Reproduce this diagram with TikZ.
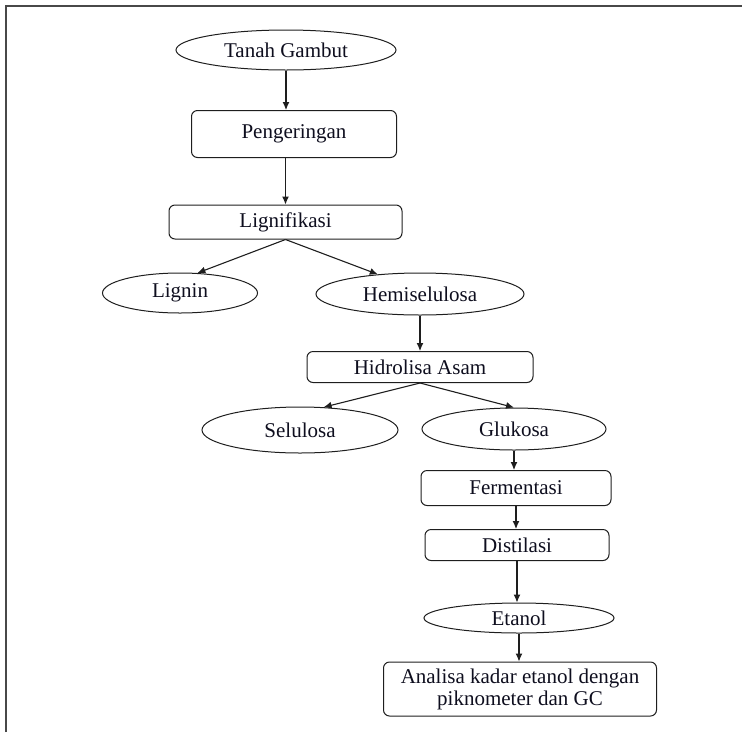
\documentclass[tikz,border=0pt]{standalone}
\usepackage{fontspec}
\setmainfont{Liberation Serif}
\usetikzlibrary{arrows.meta,shapes.geometric,calc}
\definecolor{flowLine}{RGB}{30,30,30}
\definecolor{flowText}{RGB}{14,14,30}
\definecolor{frameGray}{RGB}{72,72,72}

\begin{document}
\begin{tikzpicture}[x=1pt,y=-1pt,
  stepbox/.style={draw=flowLine, line width=1pt, rounded corners=6pt, inner sep=0pt,
    text=flowText, font=\fontsize{21}{21}\selectfont, align=center},
  oval/.style={draw=flowLine, line width=1pt, ellipse, inner sep=0pt,
    text=flowText, font=\fontsize{21}{21}\selectfont},
  arr/.style={flowLine, line width=1.1pt, -{Latex[length=8pt,width=7pt]}}]
\useasboundingbox (0,0) rectangle (742,732);

% frame
\draw[frameGray, line width=2pt] (6,732) -- (6,6) -- (742,6);

\node[oval, minimum width=220pt, minimum height=40pt] (tanah) at (286,50) {Tanah Gambut};
\node[stepbox, minimum width=205pt, minimum height=47pt] (peng) at (294,134) {Pengeringan};
\node[stepbox, minimum width=233pt, minimum height=34pt] (ligni) at (285.5,222) {Lignifikasi};
\node[oval, minimum width=155pt, minimum height=40pt] (lignin) at (180,293) {Lignin};
\node[oval, minimum width=208pt, minimum height=42pt] (hemi) at (420,294) {Hemiselulosa};
\node[stepbox, minimum width=226pt, minimum height=31pt] (hidro) at (420,367) {Hidrolisa Asam};
\node[oval, minimum width=196pt, minimum height=46pt] (selu) at (300,430) {Selulosa};
\node[oval, minimum width=184pt, minimum height=42pt] (gluk) at (514,429) {Glukosa};
\node[stepbox, minimum width=190pt, minimum height=35pt] (ferm) at (516,488) {Fermentasi};
\node[stepbox, minimum width=184pt, minimum height=31pt] (dist) at (517,545) {Distilasi};
\node[oval, minimum width=190pt, minimum height=30pt] (etanol) at (519,618) {Etanol};
\node[stepbox, minimum width=273pt, minimum height=54pt] (analisa) at (520,689)
  {\raisebox{-3pt}{\shortstack{Analisa kadar etanol dengan\\piknometer dan GC}}};

\draw[arr] (tanah.south) -- (tanah.south |- peng.north);
\draw[arr] (ligni.north |- peng.south) -- (ligni.north);
\draw[arr] (ligni.south) -- (lignin.49);
\draw[arr] (ligni.south) -- (hemi.155);
\draw[arr] (hemi.south) -- (hemi.south |- hidro.north);
\draw[arr] (hidro.south) -- (selu.44);
\draw[arr] (hidro.south) -- (gluk.north);
\draw[arr] (gluk.south) -- (gluk.south |- ferm.north);
\draw[arr] (ferm.south) -- (ferm.south |- dist.north);
\draw[arr] (dist.south) -- (dist.south |- etanol.north);
\draw[arr] (etanol.south) -- (etanol.south |- analisa.north);
\end{tikzpicture}
\end{document}
